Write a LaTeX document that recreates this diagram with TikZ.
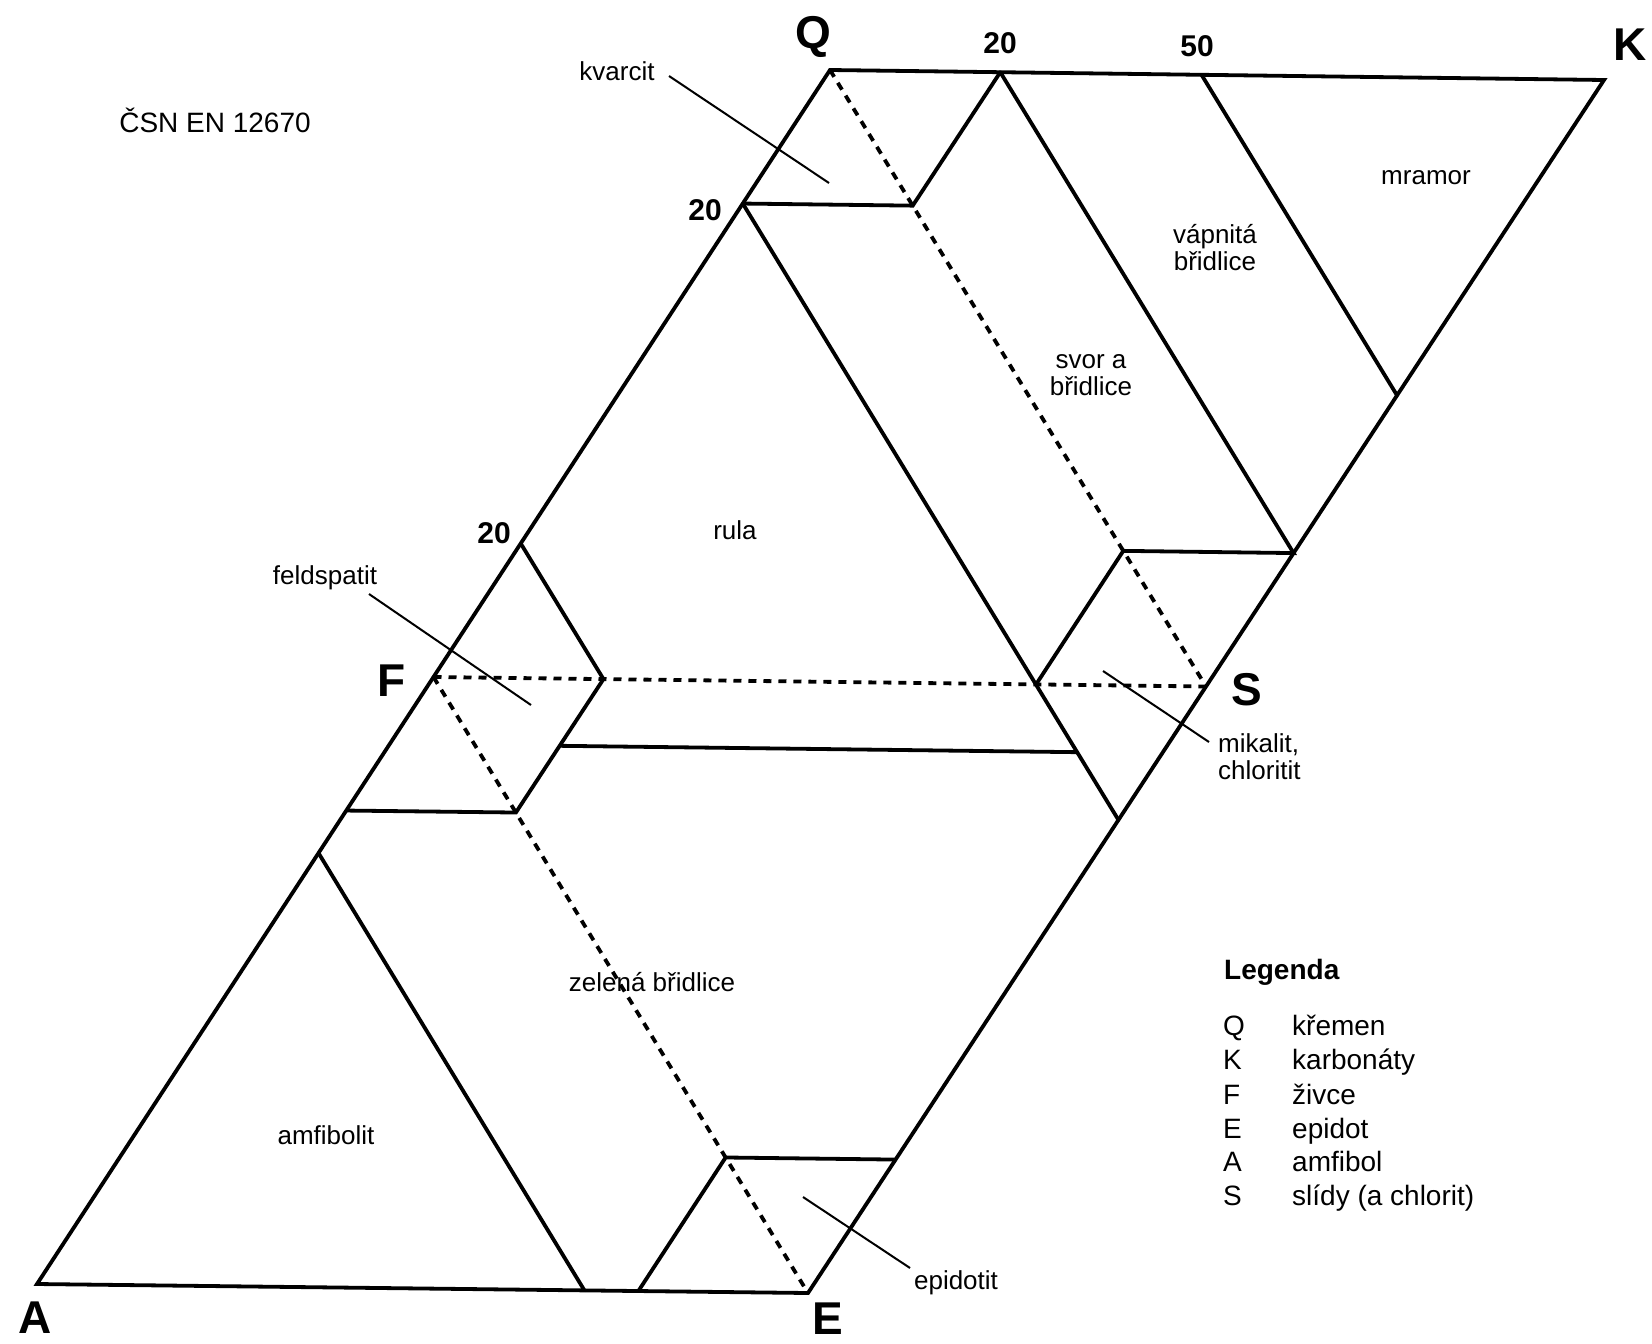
\documentclass[tikz,border=0pt]{standalone}
\usepackage{fontspec}
\setmainfont{Liberation Sans}
\usetikzlibrary{calc}
\begin{document}
\begin{tikzpicture}[x=1pt,y=-1pt,
  mainline/.style={line width=3.8pt,line cap=round},
  dotline/.style={line width=3.8pt,dash pattern=on 8pt off 7pt},
  leader/.style={line width=2pt},
  corner/.style={font=\fontsize{46}{46}\selectfont\bfseries,inner sep=0pt},
  tick/.style={font=\fontsize{30}{30}\selectfont\bfseries,inner sep=0pt},
  reg/.style={font=\fontsize{26}{27}\selectfont,inner sep=0pt,align=center},
  legtxt/.style={font=\fontsize{28}{28}\selectfont,inner sep=0pt,anchor=base west}]
\useasboundingbox (0,0) rectangle (1652,1344);
% main vertices
\coordinate (Q) at (830,70);
\coordinate (K) at (1604,80);
\coordinate (A) at (37,1284);
\coordinate (E) at (808,1293);
\coordinate (F) at ($(Q)!0.5!(A)$);
\coordinate (S) at ($(K)!0.5!(E)$);
% derived points
\coordinate (qf) at ($(Q)!0.22!(F)$);
\coordinate (qs) at ($(Q)!0.22!(S)$);
\coordinate (qk) at ($(Q)!0.22!(K)$);
\coordinate (ks78) at ($(K)!0.78!(S)$);
\coordinate (qs78) at ($(Q)!0.78!(S)$);
\coordinate (fs78) at ($(F)!0.78!(S)$);
\coordinate (se22) at ($(S)!0.22!(E)$);
\coordinate (kq52) at ($(K)!0.52!(Q)$);
\coordinate (ks52) at ($(K)!0.52!(S)$);
\coordinate (fq22) at ($(F)!0.22!(Q)$);
\coordinate (fs22) at ($(F)!0.22!(S)$);
\coordinate (fe22) at ($(F)!0.22!(E)$);
\coordinate (fa22) at ($(F)!0.22!(A)$);
\coordinate (g1) at ($(fs22)!0.5!(fe22)$);
\coordinate (g2) at ($(fs78)!0.5!(se22)$);
\coordinate (am1) at ($(A)!0.71!(F)$);
\coordinate (am2) at ($(A)!0.71!(E)$);
\coordinate (ea22) at ($(E)!0.22!(A)$);
\coordinate (ef22) at ($(E)!0.22!(F)$);
\coordinate (es22) at ($(E)!0.22!(S)$);
% dashed lines
\draw[dotline] (Q) -- (S);
\draw[dotline] (F) -- (S);
\draw[dotline] (F) -- (E);
% solid lines
\draw[mainline,line join=miter] (Q) -- (K) -- (E) -- (A) -- cycle;
\draw[mainline] (qf) -- (qs) -- (qk);
\draw[mainline] (qf) -- (se22);
\draw[mainline] (qk) -- (ks78) -- (qs78) -- (fs78);
\draw[mainline] (kq52) -- (ks52);
\draw[mainline] (fq22) -- (fs22) -- (fe22) -- (fa22);
\draw[mainline] (g1) -- (g2);
\draw[mainline] (am1) -- (am2);
\draw[mainline] (ea22) -- (ef22) -- (es22);
% corner labels
\node[corner] (lQ) at (813,37) {Q};
\node[corner] (lK) at (1630,45) {K};
\node[corner] (lA) at (35,1318) {A};
\node[corner] (lE) at (828,1319) {E};
\node[corner] (lF) at (392,681) {F};
\node[corner] (lS) at (1247,690) {S};
% tick labels
\node[tick] (t20a) at (1000,43) {20};
\node[tick] (t50) at (1197,46) {50};
\node[tick] (t20b) at (705,210) {20};
\node[tick] (t20c) at (494,533) {20};
% region labels
\node[reg] (kv) at (617,71) {kvarcit};
\node[reg] (mr) at (1426,178) {mramor};
\node[reg] (vb) at (1215,248) {vápnitá\\břidlice};
\node[reg] (sv) at (1091,375) {svor a\\břidlice};
\node[reg] (ru) at (735,530) {rula};
\node[reg] (fsp) at (325,578) {feldspatit};
\node[reg] (zb) at (652,982) {zelená břidlice};
\node[reg] (am) at (326,1135) {amfibolit};
\node[reg,align=left,anchor=west] (mk) at (1218,757) {mikalit,\\chloritit};
\node[reg] (ep) at (956,1283) {epidotit};
\node[font=\fontsize{28}{28}\selectfont,inner sep=0pt] (csn) at (215,120) {ČSN EN 12670};
% leader lines
\coordinate (kvA) at (669,76);   \coordinate (kvB) at (829,183);
\coordinate (fsA) at (369,594);  \coordinate (fsB) at (531,705);
\coordinate (mkA) at (1103,671); \coordinate (mkB) at (1209,742);
\coordinate (epA) at (803,1197); \coordinate (epB) at (910,1268);
\draw[leader] (kvA) -- (kvB);
\draw[leader] (fsA) -- (fsB);
\draw[leader] (mkA) -- (mkB);
\draw[leader] (epA) -- (epB);
% legend
\node[legtxt,font=\fontsize{28}{28}\selectfont\bfseries] (leg) at (1224,979) {Legenda};
\foreach \l/\t/\y [count=\i] in {Q/křemen/1035,K/karbonáty/1069,F/živce/1104,E/epidot/1138,A/amfibol/1171,S/slídy (a chlorit)/1205}{
  \node[legtxt] (lk\i) at (1223,\y) {\l};
  \node[legtxt] (lt\i) at (1292,\y) {\t};
}
\end{tikzpicture}
\end{document}
